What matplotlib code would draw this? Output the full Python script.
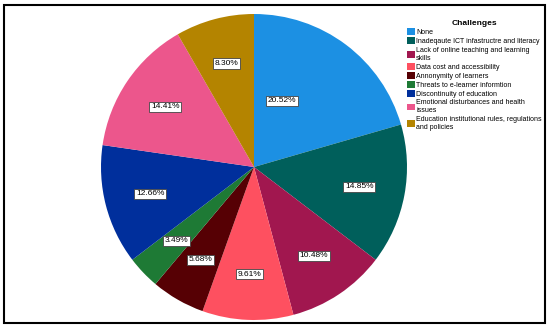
import matplotlib
matplotlib.use("Agg")
import matplotlib.pyplot as plt
from matplotlib.patches import Rectangle
import numpy as np

plt.rcParams['font.family'] = ['Liberation Sans', 'DejaVu Sans']

challenges = [
    "None",
    "Inadeqaute ICT infastructre and literacy",
    "Lack of online teaching and learning\nskills",
    "Data cost and accessibility",
    "Annonymity of learners",
    "Threats to e-learner informtion",
    "Discontinuity of education",
    "Emotional disturbances and health\nissues",
    "Education institutional rules, regulations\nand policies",
]
percents = [20.52, 14.85, 10.48, 9.61, 5.68, 3.49, 12.66, 14.41, 8.30]
colors = ["#1c90e3", "#005f5b", "#a1174f", "#fe5060", "#560004",
          "#1e7a35", "#002f9c", "#ec568c", "#b48400"]

fig = plt.figure(figsize=(5.5, 3.29), dpi=100)
ax = fig.add_axes([101 / 550, 9 / 329, 306 / 550, 306 / 329])

wedges, _, autotexts = ax.pie(
    percents, colors=colors, startangle=90, counterclock=False,
    autopct=lambda p: f"{p:.2f}%", pctdistance=0.7,
    wedgeprops=dict(linewidth=0), textprops=dict(fontsize=6),
)
for t in autotexts:
    t.set_bbox(dict(boxstyle="square,pad=0.2", facecolor="white",
                    edgecolor="#444444", linewidth=0.6))

# SPSS put the first label nearer the centre
a = np.deg2rad(67)
autotexts[0].set_position((0.47 * np.cos(a), 0.47 * np.sin(a)))

ax.set_xlim(-1, 1)
ax.set_ylim(-1, 1)
ax.set_aspect("equal")

leg = fig.legend(wedges, challenges, title="Challenges",
                 loc="upper left", bbox_to_anchor=(407 / 550, 1 - 20 / 329),
                 frameon=False, fontsize=5, title_fontsize=6,
                 handlelength=1.1, handleheight=1.1, handletextpad=0.2,
                 labelspacing=0.2, borderaxespad=0, borderpad=0)
leg.get_title().set_fontweight("bold")
leg._legend_box.align = "center"

fig.patches.append(Rectangle((4 / 550, 6 / 329), 541 / 550, 318 / 329,
                             transform=fig.transFigure, fill=False,
                             edgecolor="black", linewidth=1.5))

fig.savefig("out.png", dpi=100)
